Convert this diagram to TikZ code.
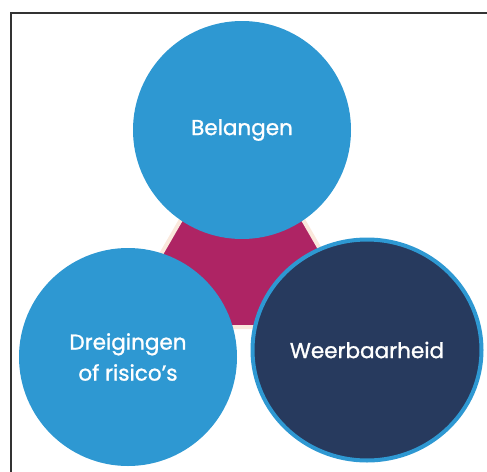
\documentclass[tikz,border=0pt]{standalone}
\usepackage{fontspec}
\setsansfont{Poppins}[FakeBold=1.2]
\usepackage{tikz}
\usetikzlibrary{shapes.geometric}
\definecolor{lichtblauw}{RGB}{46,152,210}
\definecolor{donkerblauw}{RGB}{39,58,94}
\definecolor{paars}{RGB}{174,36,100}
\definecolor{creme}{RGB}{250,232,220}
\tikzset{
  bol/.style={circle, fill=lichtblauw, minimum size=218pt, inner sep=0pt, text=white, align=center, font=\sffamily\fontsize{21.5}{31}\selectfont},
  ovaal/.style={ellipse, fill=donkerblauw, draw=lichtblauw, line width=4pt, minimum width=229pt, minimum height=221pt, inner sep=0pt, text=white, font=\sffamily\fontsize{21.5}{31}\selectfont}
}
\begin{document}
\begin{tikzpicture}[x=1pt, y=-1pt]
\useasboundingbox (0,0) rectangle (487,471);
\clip (0,0) rectangle (487,471);
% frame
\draw[line width=2pt, black!80] (11,13) rectangle (500,490);
% the hexagon in the middle
\draw[fill=paars, draw=creme, line width=4pt, line join=round] (242,256) +(0:82) -- +(60:82) -- +(120:82) -- +(180:82) -- +(240:82) -- +(300:82) -- cycle;
% three circles
\node[bol] (belangen) at (242,130) {Belangen};
\node[bol] (dreigingen) at (128,357) {Dreigingen\\of risico’s};
\node[ovaal] (weerbaarheid) at (367,350) {Weerbaarheid};
\end{tikzpicture}
\end{document}
